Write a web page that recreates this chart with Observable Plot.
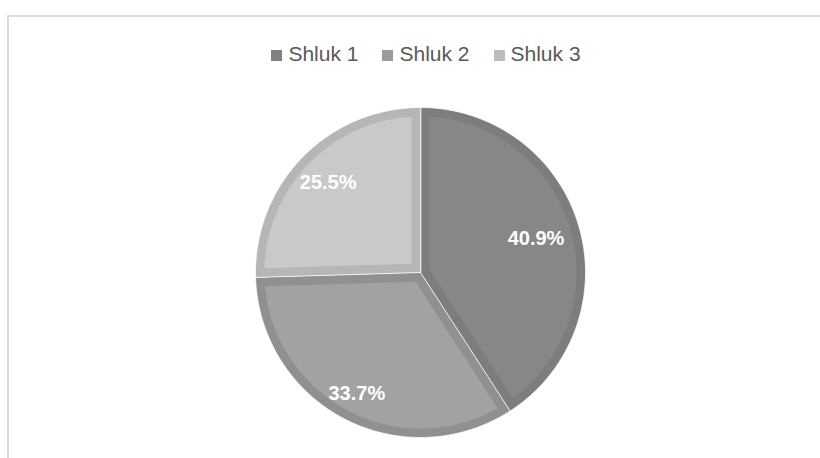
<!DOCTYPE html>
<html>
<head>
<meta charset="utf-8">
<script src="https://cdn.jsdelivr.net/npm/d3@7"></script>
<script src="https://cdn.jsdelivr.net/npm/@observablehq/plot@0.6"></script>
<style>
  html, body { margin: 0; padding: 0; background: #fff; }
  #wrap { position: relative; width: 820px; height: 458px; overflow: hidden; font-family: "Liberation Sans", Arial, sans-serif; }
  #frame { position: absolute; left: 7px; top: 15px; width: 830px; height: 460px; border-top: 2px solid #dadada; border-left: 2px solid #dadada; box-sizing: border-box; }
  #legend { position: absolute; top: 42px; left: 16px; width: 820px; display: flex; justify-content: center; align-items: center; color: #595959; font-size: 21px; }
  .item { display: flex; align-items: center; margin: 0 12px; }
  .sw { width: 11px; height: 11px; margin-right: 6px; margin-top: 2px; }
  #chart { position: absolute; left: 0; top: 0; }
</style>
</head>
<body>
<div id="wrap">
  <div id="frame"></div>
  <div id="legend"></div>
  <div id="chart"></div>
</div>
<script>
// ---- data ----
const categories = ["Shluk 1", "Shluk 2", "Shluk 3"];
const values = [40.9, 33.7, 25.5];
const labels = ["40.9%", "33.7%", "25.5%"];

// ---- styles ----
const bandColors = ["#7d7d7d", "#909090", "#b6b6b6"];
const innerColors = ["#878787", "#a2a2a2", "#c9c9c9"];
const swatchColors = ["#808080", "#9b9b9b", "#bcbcbc"];
const labelRadius = [0.73, 0.83, 0.78];
const bandWidth = 9 / 165;

// legend
const legend = document.getElementById("legend");
categories.forEach((c, i) => {
  const it = document.createElement("div");
  it.className = "item";
  const sw = document.createElement("span");
  sw.className = "sw";
  sw.style.background = swatchColors[i];
  const tx = document.createElement("span");
  tx.textContent = c;
  it.appendChild(sw); it.appendChild(tx);
  legend.appendChild(it);
});

// pie geometry
const arcs = d3.pie().sort(null).value(d => d)(values);
const outerPts = [];
const innerPts = [];
const labelRows = [];
arcs.forEach((a, i) => {
  const a0 = a.startAngle, a1 = a.endAngle;
  const n = Math.max(8, Math.ceil((a1 - a0) / 0.02));
  outerPts.push({ s: i, x: 0, y: 0, c: bandColors[i] });
  for (let k = 0; k <= n; k++) {
    const t = a0 + (a1 - a0) * k / n;
    outerPts.push({ s: i, x: Math.sin(t), y: Math.cos(t), c: bandColors[i] });
  }
  const half = (a1 - a0) / 2, mid = (a0 + a1) / 2;
  const vd = bandWidth / Math.sin(half);
  innerPts.push({ s: i, x: vd * Math.sin(mid), y: vd * Math.cos(mid), c: innerColors[i] });
  const rr = 1 - bandWidth;
  const da = Math.asin(bandWidth / rr);
  for (let k = 0; k <= n; k++) {
    const t = (a0 + da) + ((a1 - da) - (a0 + da)) * k / n;
    innerPts.push({ s: i, x: rr * Math.sin(t), y: rr * Math.cos(t), c: innerColors[i] });
  }
  labelRows.push({ x: labelRadius[i] * Math.sin(mid), y: labelRadius[i] * Math.cos(mid), text: labels[i] });
});

const chart = Plot.plot({
  width: 820,
  height: 458,
  marginLeft: 255,
  marginRight: 235,
  marginTop: 107,
  marginBottom: 21,
  x: { domain: [-1, 1], axis: null },
  y: { domain: [-1, 1], axis: null },
  style: { background: "transparent", fontFamily: "'Liberation Sans', Arial, sans-serif" },
  marks: [
    Plot.line(outerPts, { x: "x", y: "y", z: "s", fill: "c", curve: "linear-closed", stroke: "#ffffff", strokeOpacity: 0.75, strokeWidth: 1 }),
    Plot.line(innerPts, { x: "x", y: "y", z: "s", fill: "c", curve: "linear-closed", stroke: "none" }),
    Plot.text(labelRows, { x: "x", y: "y", text: "text", fill: "white", fontWeight: "bold", fontSize: 20, style: "letter-spacing: 0.4px" })
  ]
});
document.getElementById("chart").appendChild(chart);
</script>
</body>
</html>
